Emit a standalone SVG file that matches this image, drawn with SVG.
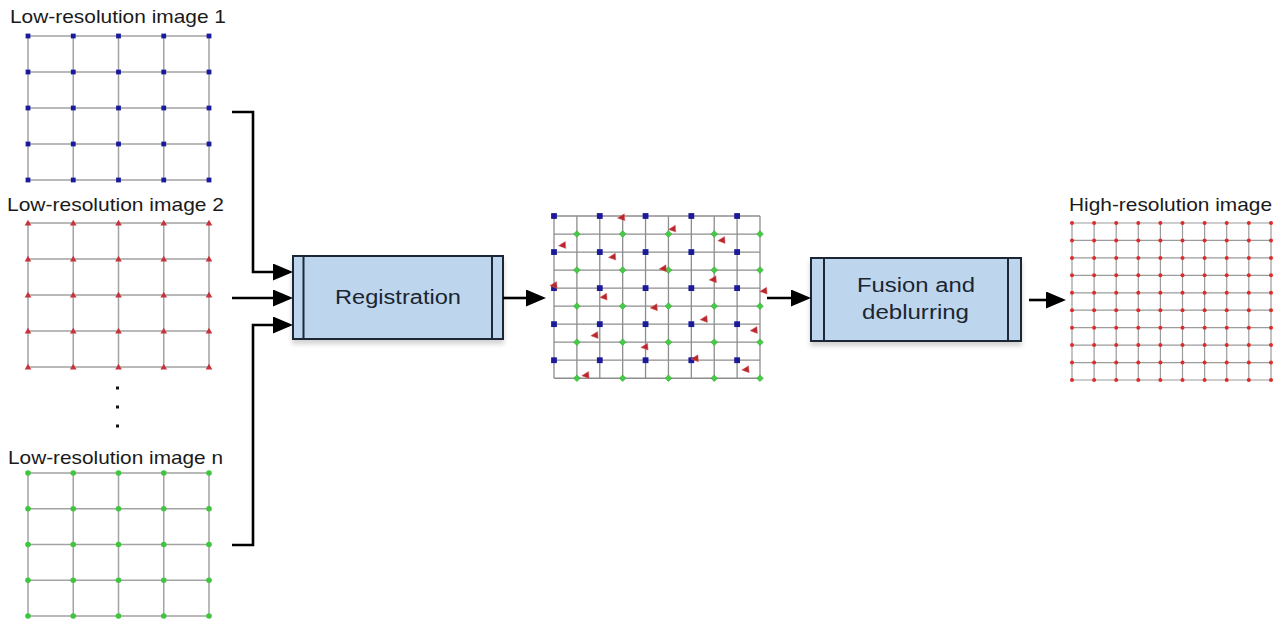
<svg xmlns="http://www.w3.org/2000/svg" xmlns:xlink="http://www.w3.org/1999/xlink" width="1284" height="622" viewBox="0 0 1284 622">
  <style>
    .lbl { font-family: "Liberation Sans", Arial, sans-serif; font-size: 19px; fill: #1a1a1a; }
    .boxlbl { font-family: "Liberation Sans", Arial, sans-serif; font-size: 20px; fill: #1a2530; }
    .lrgrid { fill: none; stroke: #a3a3a3; stroke-width: 1.5; }
    .midgrid { fill: none; stroke: #8e8e8e; stroke-width: 1.3; }
    .hrgrid { fill: none; stroke: #9c9c9c; stroke-width: 1.2; }
    .box { fill: #bdd6ee; stroke: #1c2836; stroke-width: 2; }
    .bar { stroke: #1c2836; stroke-width: 2; }
    .conn { fill: none; stroke: #000; stroke-width: 2.6; }
  </style>
  <defs>
    <marker id="arrow" markerUnits="userSpaceOnUse" markerWidth="22" markerHeight="18" refX="9" refY="8.5" orient="auto">
      <path d="M0,0 L20,8.5 L0,17 Z" fill="#000"/>
    </marker>
    <filter id="shadow" x="-10%" y="-20%" width="120%" height="150%">
      <feGaussianBlur in="SourceAlpha" stdDeviation="2.5"/>
      <feOffset dx="0" dy="4" result="b"/>
      <feComponentTransfer><feFuncA type="linear" slope="0.18"/></feComponentTransfer>
      <feMerge><feMergeNode/><feMergeNode in="SourceGraphic"/></feMerge>
    </filter>
    <!-- marker shapes -->
    <rect id="bsq" x="-2.4" y="-2.4" width="4.8" height="4.8" fill="#1a1a9c"/>
    <path id="rtri" d="M0,-3.3 L3.3,2.5 L-3.3,2.5 Z" fill="#c8323c"/>
    <circle id="gdot" r="2.8" fill="#3ec63e"/>
    <rect id="mbsq" x="-2.9" y="-2.9" width="5.8" height="5.8" fill="#1b1b9a"/>
    <path id="mgdot" d="M0,-3.3 L3.3,0 L0,3.3 L-3.3,0 Z" fill="#44cc44" stroke="#2fa82f" stroke-width="0.6"/>
    <path id="mrtri" d="M-4.2,0.7 L2.6,-3.5 L3.1,3.4 Z" fill="#b8262e" stroke="#d86060" stroke-width="0.5"/>
    <circle id="hdot" r="2" fill="#e02a2a"/>
    <!-- low-resolution grid lines (5 x 5 nodes) -->
    <path id="lrLines" d="M0,0V144M45.25,0V144M90.5,0V144M135.75,0V144M181,0V144M0,0H181M0,36H181M0,72H181M0,108H181M0,144H181"/>
    <g id="rowB"><use href="#bsq" x="0"/><use href="#bsq" x="45.25"/><use href="#bsq" x="90.5"/><use href="#bsq" x="135.75"/><use href="#bsq" x="181"/></g>
    <g id="rowR"><use href="#rtri" x="0"/><use href="#rtri" x="45.25"/><use href="#rtri" x="90.5"/><use href="#rtri" x="135.75"/><use href="#rtri" x="181"/></g>
    <g id="rowG"><use href="#gdot" x="0"/><use href="#gdot" x="45.25"/><use href="#gdot" x="90.5"/><use href="#gdot" x="135.75"/><use href="#gdot" x="181"/></g>
    <!-- registered grid rows -->
    <g id="rowMB"><use href="#mbsq" x="0"/><use href="#mbsq" x="45.78"/><use href="#mbsq" x="91.56"/><use href="#mbsq" x="137.33"/><use href="#mbsq" x="183.11"/></g>
    <g id="rowMG"><use href="#mgdot" x="22.89"/><use href="#mgdot" x="68.67"/><use href="#mgdot" x="114.44"/><use href="#mgdot" x="160.22"/><use href="#mgdot" x="206"/></g>
    <!-- high-resolution grid row -->
    <g id="rowH"><use href="#hdot" x="0"/><use href="#hdot" x="22.1"/><use href="#hdot" x="44.2"/><use href="#hdot" x="66.3"/><use href="#hdot" x="88.4"/><use href="#hdot" x="110.5"/><use href="#hdot" x="132.6"/><use href="#hdot" x="154.7"/><use href="#hdot" x="176.8"/><use href="#hdot" x="199"/></g>
  </defs>

  <rect width="1284" height="622" fill="#ffffff"/>

  <!-- input image 1 -->
  <g id="lr1">
    <text class="lbl" x="10" y="23" textLength="216" lengthAdjust="spacingAndGlyphs">Low-resolution image 1</text>
    <g transform="translate(28,36)">
      <use href="#lrLines" class="lrgrid"/>
      <use href="#rowB" y="0"/><use href="#rowB" y="36"/><use href="#rowB" y="72"/><use href="#rowB" y="108"/><use href="#rowB" y="144"/>
    </g>
  </g>

  <!-- input image 2 -->
  <g id="lr2">
    <text class="lbl" x="7" y="211" textLength="217" lengthAdjust="spacingAndGlyphs">Low-resolution image 2</text>
    <g transform="translate(28,223)">
      <use href="#lrLines" class="lrgrid"/>
      <use href="#rowR" y="0"/><use href="#rowR" y="36"/><use href="#rowR" y="72"/><use href="#rowR" y="108"/><use href="#rowR" y="144"/>
    </g>
  </g>

  <!-- ellipsis between inputs -->
  <g id="ellipsis" fill="#111">
    <rect x="116" y="386.5" width="3" height="3"/>
    <rect x="116" y="405.5" width="3" height="3"/>
    <rect x="116" y="424.5" width="3" height="3"/>
  </g>

  <!-- input image n -->
  <g id="lrn">
    <text class="lbl" x="8" y="464" textLength="215" lengthAdjust="spacingAndGlyphs">Low-resolution image n</text>
    <g transform="translate(28,473)">
      <use href="#lrLines" class="lrgrid" transform="scale(1,0.993)"/>
      <use href="#rowG" y="0"/><use href="#rowG" y="35.75"/><use href="#rowG" y="71.5"/><use href="#rowG" y="107.25"/><use href="#rowG" y="143"/>
    </g>
  </g>

  <!-- registration step -->
  <g id="registration">
    <rect class="box" x="293" y="256" width="210" height="83" filter="url(#shadow)"/>
    <line class="bar" x1="303.5" y1="256" x2="303.5" y2="339"/>
    <line class="bar" x1="492" y1="256" x2="492" y2="339"/>
    <text class="boxlbl" x="335" y="304" textLength="126" lengthAdjust="spacingAndGlyphs">Registration</text>
  </g>

  <!-- registered samples on a common grid -->
  <g id="registered">
    <path class="midgrid" d="M554,216V378.25M576.89,216V378.25M599.78,216V378.25M622.67,216V378.25M645.56,216V378.25M668.44,216V378.25M691.33,216V378.25M714.22,216V378.25M737.11,216V378.25M760,216V378.25
             M554,216H760M554,234.03H760M554,252.06H760M554,270.08H760M554,288.11H760M554,306.14H760M554,324.17H760M554,342.19H760M554,360.22H760M554,378.25H760"/>
    <g transform="translate(554,216)">
      <use href="#rowMB" y="0"/><use href="#rowMB" y="36.06"/><use href="#rowMB" y="72.11"/><use href="#rowMB" y="108.17"/><use href="#rowMB" y="144.22"/>
      <use href="#rowMG" y="18.03"/><use href="#rowMG" y="54.08"/><use href="#rowMG" y="90.14"/><use href="#rowMG" y="126.19"/><use href="#rowMG" y="162.25"/>
    </g>
    <g>
      <use href="#mrtri" x="621.7" y="217.3"/>
      <use href="#mrtri" x="672.7" y="228.7"/>
      <use href="#mrtri" x="562.7" y="245"/>
      <use href="#mrtri" x="612.7" y="256.7"/>
      <use href="#mrtri" x="722" y="240"/>
      <use href="#mrtri" x="663.3" y="268.3"/>
      <use href="#mrtri" x="713.3" y="279.3"/>
      <use href="#mrtri" x="554" y="285"/>
      <use href="#mrtri" x="604" y="296.7"/>
      <use href="#mrtri" x="764" y="290.7"/>
      <use href="#mrtri" x="654.3" y="307.3"/>
      <use href="#mrtri" x="704.3" y="319"/>
      <use href="#mrtri" x="595" y="335"/>
      <use href="#mrtri" x="754.3" y="330"/>
      <use href="#mrtri" x="645" y="346.7"/>
      <use href="#mrtri" x="695.3" y="358.3"/>
      <use href="#mrtri" x="586" y="375"/>
      <use href="#mrtri" x="746" y="369.3"/>
    </g>
  </g>

  <!-- fusion and deblurring step -->
  <g id="fusion">
    <rect class="box" x="811" y="258" width="210" height="83" filter="url(#shadow)"/>
    <line class="bar" x1="824" y1="258" x2="824" y2="341"/>
    <line class="bar" x1="1008" y1="258" x2="1008" y2="341"/>
    <text class="boxlbl" x="857" y="292" textLength="118" lengthAdjust="spacingAndGlyphs">Fusion and</text>
    <text class="boxlbl" x="862" y="319" textLength="107" lengthAdjust="spacingAndGlyphs">deblurring</text>
  </g>

  <!-- output image -->
  <g id="hr">
    <text class="lbl" x="1069" y="211" textLength="203" lengthAdjust="spacingAndGlyphs">High-resolution image</text>
    <path class="hrgrid" d="M1072,223V380M1094.1,223V380M1116.2,223V380M1138.3,223V380M1160.4,223V380M1182.5,223V380M1204.6,223V380M1226.7,223V380M1248.8,223V380M1271,223V380
             M1072,223H1271M1072,240.44H1271M1072,257.89H1271M1072,275.33H1271M1072,292.78H1271M1072,310.22H1271M1072,327.67H1271M1072,345.11H1271M1072,362.56H1271M1072,380H1271"/>
    <g transform="translate(1072,223)">
      <use href="#rowH" y="0"/><use href="#rowH" y="17.44"/><use href="#rowH" y="34.89"/><use href="#rowH" y="52.33"/><use href="#rowH" y="69.78"/>
      <use href="#rowH" y="87.22"/><use href="#rowH" y="104.67"/><use href="#rowH" y="122.11"/><use href="#rowH" y="139.56"/><use href="#rowH" y="157"/>
    </g>
  </g>

  <!-- connectors -->
  <g id="connectors">
    <path class="conn" d="M232,112 H253 V272 H282" marker-end="url(#arrow)"/>
    <path class="conn" d="M232,298 H282" marker-end="url(#arrow)"/>
    <path class="conn" d="M232,545 H253 V325 H282" marker-end="url(#arrow)"/>
    <path class="conn" d="M503,298 H535" marker-end="url(#arrow)"/>
    <path class="conn" d="M767,298 H800" marker-end="url(#arrow)"/>
    <path class="conn" d="M1029,300 H1055" marker-end="url(#arrow)"/>
  </g>
</svg>
